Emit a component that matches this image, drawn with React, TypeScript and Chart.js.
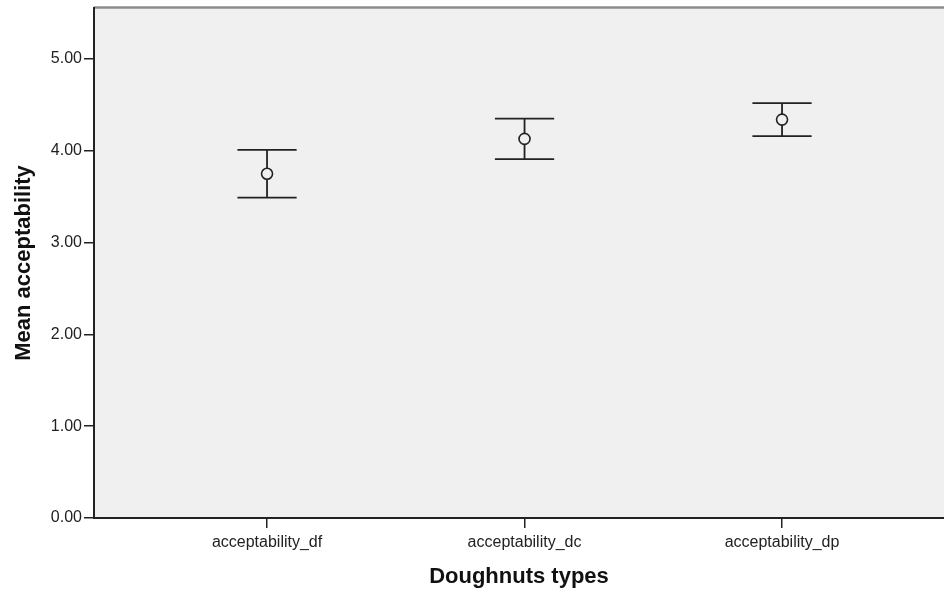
import React, { useEffect, useRef } from "react";
import { Chart, registerables } from "chart.js";

Chart.register(...registerables);

const CATEGORIES = ["acceptability_df", "acceptability_dc", "acceptability_dp"];
const MEANS = [3.75, 4.13, 4.34];
const UPPER = [4.01, 4.35, 4.52];
const LOWER = [3.49, 3.91, 4.16];
const Y_TICKS = [0, 1, 2, 3, 4, 5];
const X_TITLE = "Doughnuts types";
const Y_TITLE = "Mean acceptability";

const CAP_HALF = 0.115;
const INK = "#222222";

const bgPlugin = {
  id: "plotBg",
  beforeDraw(chart: any) {
    const { ctx, chartArea } = chart;
    if (!chartArea) return;
    ctx.save();
    ctx.fillStyle = "#f0f0f0";
    ctx.fillRect(chartArea.left, chartArea.top, chartArea.right - chartArea.left, chartArea.bottom - chartArea.top);
    ctx.strokeStyle = "#8c8c8c";
    ctx.lineWidth = 2.5;
    ctx.beginPath();
    ctx.moveTo(chartArea.left, chartArea.top - 0.5);
    ctx.lineTo(chartArea.right, chartArea.top - 0.5);
    ctx.stroke();
    ctx.restore();
  },
};

export default function App() {
  const ref = useRef<HTMLCanvasElement | null>(null);

  useEffect(() => {
    document.body.style.margin = "0";
    if (!ref.current) return;

    const stems: any[] = [];
    const caps: any[] = [];
    CATEGORIES.forEach((_, i) => {
      stems.push({ x: i, y: LOWER[i] }, { x: i, y: UPPER[i] }, { x: i, y: null });
      caps.push({ x: i - CAP_HALF, y: UPPER[i] }, { x: i + CAP_HALF, y: UPPER[i] }, { x: i + CAP_HALF, y: null });
      caps.push({ x: i - CAP_HALF, y: LOWER[i] }, { x: i + CAP_HALF, y: LOWER[i] }, { x: i + CAP_HALF, y: null });
    });

    const tickFont = { family: "'Liberation Sans', Arial, sans-serif", size: 16 };
    const titleFont = { family: "'Liberation Sans', Arial, sans-serif", size: 22, weight: "bold" as const };

    const chart = new Chart(ref.current, {
      type: "scatter",
      data: {
        datasets: [
          {
            type: "line",
            data: stems,
            borderColor: INK,
            borderWidth: 1.8,
            pointRadius: 0,
            spanGaps: false,
            fill: false,
            order: 3,
          } as any,
          {
            type: "line",
            data: caps,
            borderColor: INK,
            borderWidth: 1.8,
            pointRadius: 0,
            spanGaps: false,
            fill: false,
            order: 2,
          } as any,
          {
            type: "scatter",
            data: MEANS.map((m, i) => ({ x: i, y: m })),
            pointStyle: "circle",
            pointRadius: 5.5,
            pointBackgroundColor: "#f0f0f0",
            pointBorderColor: INK,
            pointBorderWidth: 1.6,
            order: 1,
          } as any,
        ],
      },
      options: {
        animation: false,
        responsive: false,
        layout: { autoPadding: false, padding: { top: 8, left: 0, right: 0, bottom: 0 } },
        plugins: { legend: { display: false }, tooltip: { enabled: false } },
        scales: {
          x: {
            type: "linear",
            min: -0.672,
            max: 2.629,
            afterFit: (s: any) => {
              s.height = 74;
              s.paddingLeft = 0;
              s.paddingRight = 0;
            },
            afterBuildTicks: (s: any) => {
              s.ticks = CATEGORIES.map((_, i) => ({ value: i }));
            },
            ticks: {
              callback: (v: any) => CATEGORIES[Math.round(Number(v))] ?? "",
              font: tickFont,
              color: INK,
              padding: 5,
              maxRotation: 0,
              autoSkip: false,
            },
            grid: { drawOnChartArea: false, drawTicks: true, tickLength: 10, color: INK, lineWidth: 1.5 },
            border: { color: INK, width: 2 },
            title: { display: true, text: X_TITLE, font: titleFont, color: "#111", padding: { top: 0, bottom: 2 } },
          },
          y: {
            type: "linear",
            min: 0,
            max: 5.556,
            afterFit: (s: any) => {
              s.width = 94;
              s.paddingTop = 0;
              s.paddingBottom = 0;
            },
            afterBuildTicks: (s: any) => {
              s.ticks = Y_TICKS.map((v) => ({ value: v }));
            },
            ticks: {
              callback: (v: any) => Number(v).toFixed(2),
              font: tickFont,
              color: INK,
              padding: 2,
            },
            grid: { drawOnChartArea: false, drawTicks: true, tickLength: 10, color: INK, lineWidth: 1.5 },
            border: { color: INK, width: 2 },
            title: { display: true, text: Y_TITLE, font: titleFont, color: "#111", padding: { top: 11, bottom: 0 } },
          },
        },
      },
      plugins: [bgPlugin],
    } as any);

    return () => chart.destroy();
  }, []);

  return (
    <div style={{ width: 944, height: 592 }}>
      <canvas ref={ref} width={944} height={592} style={{ display: "block" }} />
    </div>
  );
}
